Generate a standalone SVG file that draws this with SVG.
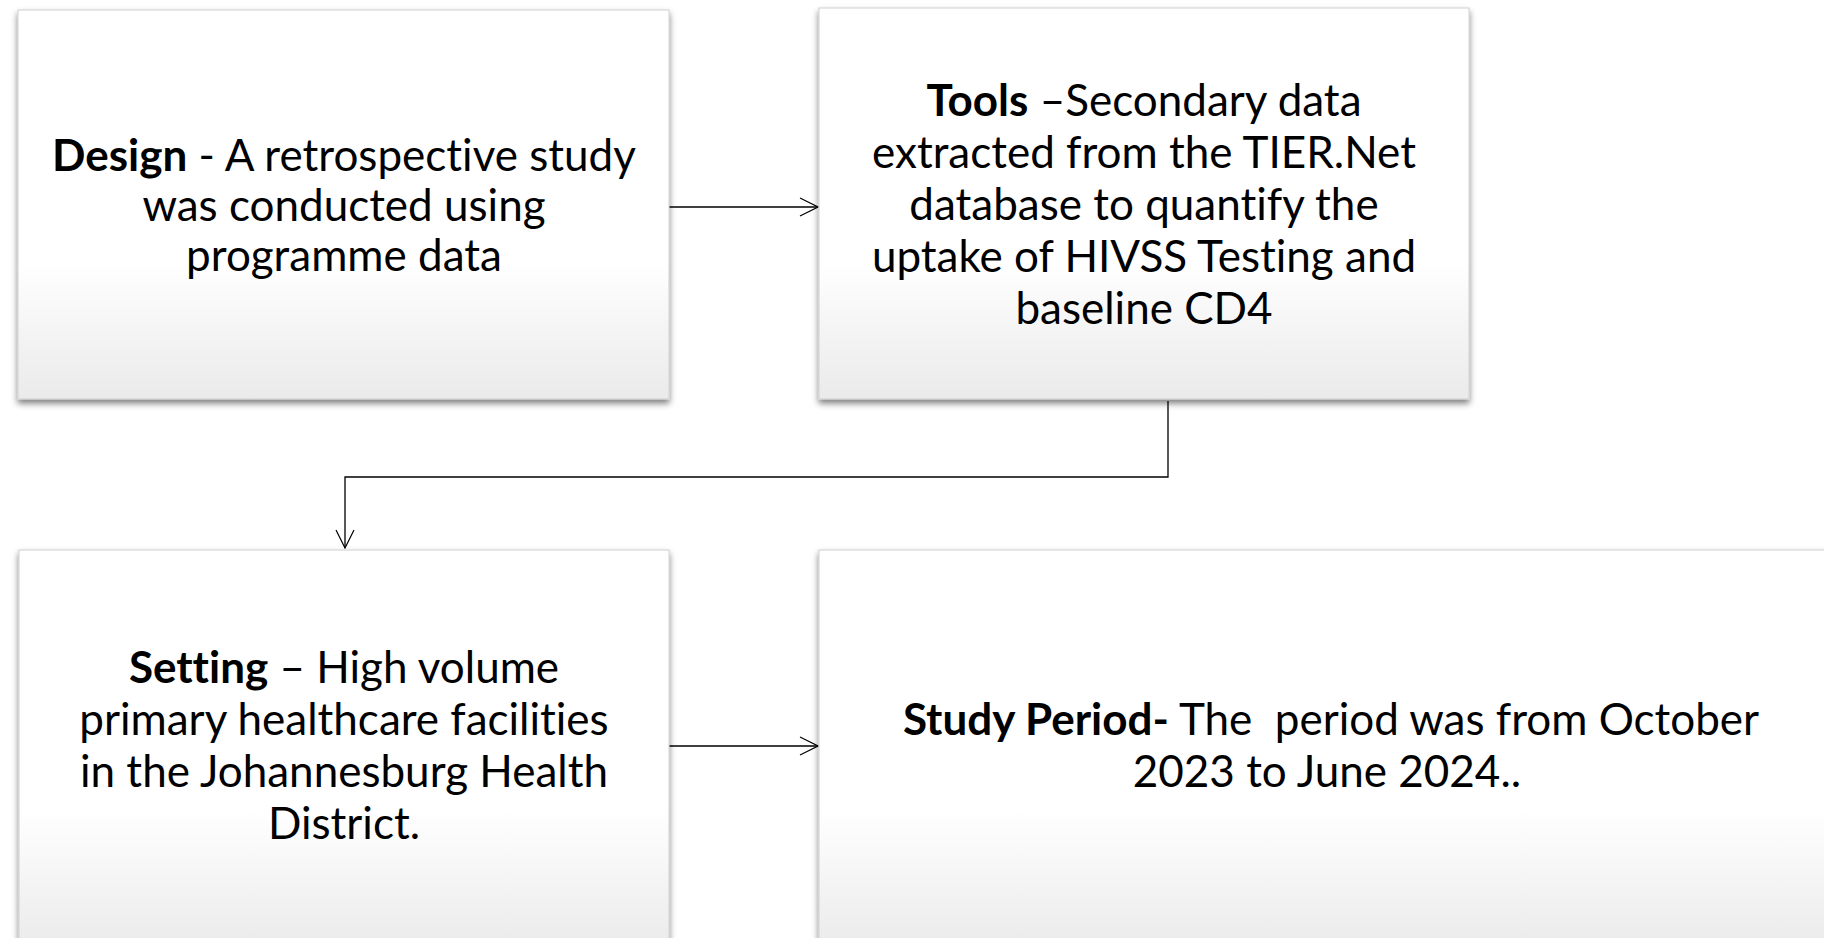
<svg xmlns="http://www.w3.org/2000/svg" width="1824" height="938" viewBox="0 0 1824 938">
<style>
.box{fill:url(#g);stroke:#d0d0d0;stroke-width:1;filter:url(#sh)}
.t{font-family:Lato,"Open Sans","Liberation Sans",sans-serif;font-size:44px;fill:#000;text-anchor:middle;white-space:pre;font-variant-ligatures:none}
.b{font-weight:bold}
.c{fill:none;stroke:#000;stroke-width:1.3}
</style>
<defs>
<linearGradient id="g" x1="0" y1="0" x2="0" y2="1">
<stop offset="0" stop-color="#ffffff"/>
<stop offset="0.65" stop-color="#ffffff"/>
<stop offset="1" stop-color="#eaeaea"/>
</linearGradient>
<filter id="sh" x="-5%" y="-5%" width="110%" height="115%">
<feDropShadow dx="0" dy="4" stdDeviation="3" flood-color="#000" flood-opacity="0.5"/>
</filter>
<marker id="a" viewBox="0 0 20 20" refX="19" refY="10" markerWidth="20" markerHeight="20" markerUnits="userSpaceOnUse" orient="auto">
<path d="M1,1 L19,10 L1,19" fill="none" stroke="#000" stroke-width="1.2"/>
</marker>
</defs>
<rect width="1824" height="938" fill="#fff"/>
<g id="connectors">
<path class="c" d="M669,207 H818" marker-end="url(#a)"/>
<path class="c" d="M1168,401 V477 H345 V548" marker-end="url(#a)"/>
<path class="c" d="M669,746 H818" marker-end="url(#a)"/>
</g>
<g id="design">
<rect class="box" x="18" y="10" width="651" height="389"/>
<text class="t" x="344" y="171"><tspan class="b">Design</tspan> - A retrospective study</text>
<text class="t" x="344" y="221">was conducted using</text>
<text class="t" x="344" y="271">programme data</text>
</g>
<g id="tools">
<rect class="box" x="819" y="8" width="650" height="391"/>
<text class="t" x="1144" y="116"><tspan class="b">Tools</tspan> –Secondary data</text>
<text class="t" x="1144" y="168">extracted from the TIER.Net</text>
<text class="t" x="1144" y="220">database to quantify the</text>
<text class="t" x="1144" y="272">uptake of HIVSS Testing and</text>
<text class="t" x="1144" y="324">baseline CD4</text>
</g>
<g id="setting">
<rect class="box" x="19" y="550" width="650" height="400"/>
<text class="t" x="344" y="683"><tspan class="b">Setting</tspan> – High volume</text>
<text class="t" x="344" y="735">primary healthcare facilities</text>
<text class="t" x="344" y="787">in the Johannesburg Health</text>
<text class="t" x="344" y="839">District.</text>
</g>
<g id="period">
<rect class="box" x="819" y="550" width="1030" height="400"/>
<text class="t" x="1331" y="735"><tspan class="b">Study Period-</tspan> The  period was from October</text>
<text class="t" x="1327" y="787">2023 to June 2024..</text>
</g>
</svg>
